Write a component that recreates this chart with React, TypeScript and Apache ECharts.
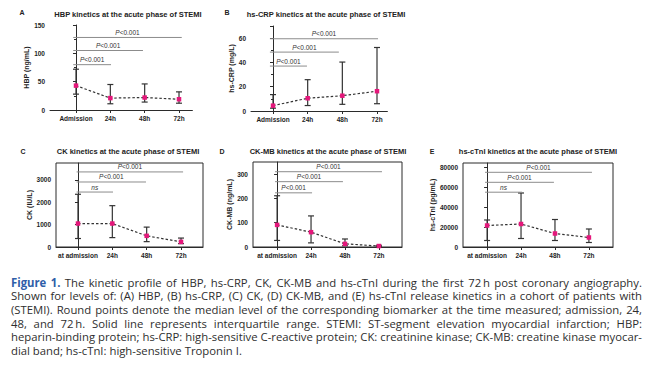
import React, { useEffect, useRef } from 'react';
import * as echarts from 'echarts';

// ---------- data ----------
const catsAB = ['Admission', '24h', '48h', '72h'];
const catsCDE = ['at admission', '24h', '48h', '72h'];

const hbpMedian = [43, 21, 22, 19];
const hbpQ1 = [28, 11, 14, 12];
const hbpQ3 = [72, 45, 46, 32];

const crpMedian = [4.4, 10.5, 12.6, 16.3];
const crpQ1 = [2.3, 4.5, 5.5, 6];
const crpQ3 = [13.5, 25.8, 40.3, 52.3];

const ckMedian = [1050, 1050, 500, 230];
const ckQ1 = [380, 420, 240, 150];
const ckQ3 = [2360, 1850, 890, 400];

const ckmbMedian = [91, 61, 13, 4];
const ckmbQ1 = [27, 17, 5, 2];
const ckmbQ3 = [211, 128, 33, 7];

const tniMedian = [21500, 23000, 13500, 9500];
const tniQ1 = [6500, 8500, 6500, 4500];
const tniQ3 = [27000, 54000, 27500, 18000];

// brackets: [from category, to category, height (data units)], labels separately
const bracketsA = [[-0.08, 1.02, 80], [-0.08, 1.95, 105], [-0.08, 3.08, 128]];
const bracketLabelsA = ['P<0.001', 'P<0.001', 'P<0.001'];
const bracketsB = [[-0.09, 0.98, 37], [-0.09, 1.9, 48.5], [-0.09, 3.03, 59.5]];
const bracketLabelsB = ['P<0.001', 'P<0.001', 'P<0.001'];
const bracketsC = [[-0.04, 1.02, 2460], [-0.04, 1.98, 2910], [-0.04, 3.06, 3360]];
const bracketLabelsC = ['ns', 'P<0.001', 'P<0.001'];
const bracketsD = [[-0.06, 1.03, 223], [-0.06, 1.94, 269], [-0.06, 3.09, 310]];
const bracketLabelsD = ['P<0.001', 'P<0.001', 'P<0.001'];
const bracketsE = [[-0.06, 1.03, 54800], [-0.06, 1.97, 64700], [-0.06, 3.09, 74700]];
const bracketLabelsE = ['ns', 'P<0.001', 'P<0.001'];

const ticksA = [0, 50, 100, 150];
const ticksB = [0, 20, 40, 60];
const ticksC = [0, 1000, 2000, 3000];
const ticksD = [0, 100, 200, 300];
const ticksE = [0, 20000, 40000, 60000, 80000];

const captionLines = [
  'Figure 1. The kinetic profile of HBP, hs-CRP, CK, CK-MB and hs-cTnI during the first 72\u2009h post coronary angiography.',
  'Shown for levels of: (A) HBP, (B) hs-CRP, (C) CK, (D) CK-MB, and (E) hs-cTnI release kinetics in a cohort of patients with',
  '(STEMI). Round points denote the median level of the corresponding biomarker at the time measured; admission, 24,',
  '48, and 72\u2009h. Solid line represents interquartile range. STEMI: ST-segment elevation myocardial infarction; HBP:',
  'heparin-binding protein; hs-CRP: high-sensitive C-reactive protein; CK: creatinine kinase; CK-MB: creatine kinase myocar-',
  'dial band; hs-cTnI: high-sensitive Troponin I.',
];

// ---------- styling / layout ----------
const FONT = '"Liberation Sans", Arial, Helvetica, sans-serif';
const CAP_FAMILY = '"Open Sans", "Noto Sans", sans-serif';
const PINK = '#e5177b';
const DARK = '#2b2b2b';

const panels = [
  {
    letter: 'A', letterAt: [22, 12], title: 'HBP kinetics at the acute phase of STEMI', titleAt: [128, 14],
    yName: 'HBP (ng/mL)', cats: catsAB, median: hbpMedian, q1: hbpQ1, q3: hbpQ3,
    br: bracketsA, brLabels: bracketLabelsA, ticks: ticksA,
    grid: { left: 50, top: 25, width: 142.4, height: 85 }, xMin: -0.757, xMax: 3.39, yMax: 150,
    interval: 50, minor: true, box: false, nameGap: 14,
  },
  {
    letter: 'B', letterAt: [227, 12], title: 'hs-CRP kinetics at the acute phase of STEMI', titleAt: [326, 14],
    yName: 'hs-CRP (mg/L)', cats: catsAB, median: crpMedian, q1: crpQ1, q3: crpQ3,
    br: bracketsB, brLabels: bracketLabelsB, ticks: ticksB,
    grid: { left: 251, top: 26, width: 136.4, height: 85 }, xMin: -0.635, xMax: 3.3, yMax: 70,
    interval: 20, minor: true, box: false, nameGap: 11,
  },
  {
    letter: 'C', letterAt: [23, 151], title: 'CK kinetics at the acute phase of STEMI', titleAt: [128, 151],
    yName: 'CK (IU/L)', cats: catsCDE, median: ckMedian, q1: ckQ1, q3: ckQ3,
    br: bracketsC, brLabels: bracketLabelsC, ticks: ticksC,
    grid: { left: 56, top: 163, width: 147, height: 84 }, xMin: -0.64, xMax: 3.64, yMax: 3760,
    interval: 0, minor: false, box: true, nameGap: 20,
  },
  {
    letter: 'D', letterAt: [222, 151], title: 'CK-MB kinetics at the acute phase of STEMI', titleAt: [328, 151],
    yName: 'CK-MB (ng/mL)', cats: catsCDE, median: ckmbMedian, q1: ckmbQ1, q3: ckmbQ3,
    br: bracketsD, brLabels: bracketLabelsD, ticks: ticksD,
    grid: { left: 253, top: 162, width: 149, height: 85 }, xMin: -0.71, xMax: 3.68, yMax: 350,
    interval: 0, minor: false, box: true, nameGap: 16,
  },
  {
    letter: 'E', letterAt: [432, 151], title: 'hs-cTnI kinetics at the acute phase of STEMI', titleAt: [538, 151],
    yName: 'hs-cTnI (pg/mL)', cats: catsCDE, median: tniMedian, q1: tniQ1, q3: tniQ3,
    br: bracketsE, brLabels: bracketLabelsE, ticks: ticksE,
    grid: { left: 463, top: 163, width: 150, height: 84 }, xMin: -0.71, xMax: 3.71, yMax: 84000,
    interval: 0, minor: false, box: true, nameGap: 24,
  },
];

function buildCaption(): any[] {
  const size = 11.5;
  const left = 11;
  const right = 642;
  const target = right - left;
  const canvas = document.createElement('canvas');
  const ctx = canvas.getContext('2d') as CanvasRenderingContext2D;
  const fontOf = (bold: boolean) => `${bold ? 'bold' : 'normal'} ${size}px ${CAP_FAMILY}`;
  const measure = (t: string, bold: boolean) => {
    ctx.font = fontOf(bold);
    return ctx.measureText(t).width;
  };
  ctx.font = fontOf(false);
  const spaceW = ctx.measureText(' ').width;
  const lines = captionLines.map((line, li) =>
    line.split(' ').map((w, wi) => {
      const bold = li === 0 && wi < 2;
      return { t: w, bold, w: measure(w, bold) };
    })
  );
  let maxNat = 0;
  lines.slice(0, lines.length - 1).forEach((ws) => {
    const nat = ws.reduce((s, w) => s + w.w, 0) + (ws.length - 1) * spaceW;
    maxNat = Math.max(maxNat, nat);
  });
  const sx = Math.min(1, target / maxNat);
  const els: any[] = [];
  lines.forEach((ws, li) => {
    const y = 282 + li * 13.7;
    const sum = ws.reduce((s, w) => s + w.w * sx, 0);
    const last = li === lines.length - 1;
    const gap = last ? spaceW * sx : (target - sum) / (ws.length - 1);
    let x = left;
    ws.forEach((w) => {
      els.push({
        type: 'text',
        x,
        y,
        scaleX: sx,
        silent: true,
        style: {
          text: w.t,
          font: fontOf(w.bold),
          fill: w.bold ? '#2f5ea8' : '#2e2e2e',
          verticalAlign: 'middle',
          align: 'left',
        },
      });
      x += w.w * sx + gap;
    });
  });
  return els;
}

function buildOption(): any {
  const grids: any[] = [];
  const xAxes: any[] = [];
  const yAxes: any[] = [];
  const series: any[] = [];
  const graphics: any[] = [];

  panels.forEach((p, i) => {
    grids.push({
      ...p.grid,
      containLabel: false,
      outerBoundsMode: 'none',
      show: p.box,
      borderColor: DARK,
      borderWidth: 1,
      backgroundColor: 'transparent',
    });
    const cats = p.cats;
    xAxes.push({
      type: 'value',
      gridIndex: i,
      min: p.xMin,
      max: p.xMax,
      splitLine: { show: false },
      axisLine: { show: true, onZero: false, lineStyle: { color: DARK, width: 1 } },
      axisTick: { show: true, customValues: [0, 1, 2, 3], length: 3, lineStyle: { color: DARK } },
      axisLabel: {
        customValues: [0, 1, 2, 3],
        formatter: (v: number) => cats[Math.round(v)] ?? '',
        fontSize: 6.5,
        fontWeight: 'bold',
        fontFamily: FONT,
        color: '#1e1e1e',
        margin: 5,
      },
    });
    const yAxis: any = {
      type: 'value',
      gridIndex: i,
      min: 0,
      max: p.yMax,
      splitLine: { show: false },
      name: p.yName,
      nameLocation: 'middle',
      nameRotate: 90,
      nameGap: p.nameGap,
      nameTextStyle: { fontSize: 7, fontWeight: 'bold', fontFamily: FONT, color: '#1e1e1e' },
      axisLine: { show: true, lineStyle: { color: DARK, width: 1 } },
      axisTick: { show: true, length: 3, lineStyle: { color: DARK } },
      axisLabel: {
        fontSize: 6.5,
        fontWeight: 'bold',
        fontFamily: FONT,
        color: '#1e1e1e',
        margin: 5,
        formatter: (v: number) => String(v),
      },
    };
    if (p.interval) {
      yAxis.interval = p.interval;
      yAxis.axisLabel.showMaxLabel = p.yMax % p.interval === 0;
      yAxis.minorTick = { show: p.minor, splitNumber: 2, length: 2, lineStyle: { color: DARK } };
    } else {
      yAxis.axisTick.customValues = p.ticks;
      yAxis.axisLabel.customValues = p.ticks;
    }
    yAxes.push(yAxis);

    const q1 = p.q1;
    const q3 = p.q3;
    // error bars (interquartile range)
    series.push({
      type: 'custom',
      xAxisIndex: i,
      yAxisIndex: i,
      z: 2,
      encode: { x: 0, y: [1, 2] },
      data: q1.map((v, k) => [k, v, q3[k]]),
      renderItem: (params: any, api: any) => {
        const x = api.value(0);
        const lo = api.coord([x, api.value(1)]);
        const hi = api.coord([x, api.value(2)]);
        const w = 3;
        const st = { stroke: '#333333', lineWidth: 1.2 };
        return {
          type: 'group',
          children: [
            { type: 'line', shape: { x1: lo[0], y1: lo[1], x2: hi[0], y2: hi[1] }, style: st },
            { type: 'line', shape: { x1: hi[0] - w, y1: hi[1], x2: hi[0] + w, y2: hi[1] }, style: st },
            { type: 'line', shape: { x1: lo[0] - w, y1: lo[1], x2: lo[0] + w, y2: lo[1] }, style: st },
          ],
        };
      },
    });
    // medians
    series.push({
      type: 'line',
      xAxisIndex: i,
      yAxisIndex: i,
      z: 3,
      data: p.median.map((v, k) => [k, v]),
      symbol: 'rect',
      symbolSize: 4.5,
      itemStyle: { color: PINK },
      lineStyle: { color: '#333', width: 1.2, type: [2.5, 2] },
    });
    // significance brackets
    const labels = p.brLabels;
    series.push({
      type: 'custom',
      xAxisIndex: i,
      yAxisIndex: i,
      z: 2,
      encode: { x: [0, 1], y: 2 },
      data: p.br,
      renderItem: (params: any, api: any) => {
        const a = api.coord([api.value(0), api.value(2)]);
        const b = api.coord([api.value(1), api.value(2)]);
        const lab = labels[params.dataIndex];
        const txt = lab === 'ns' ? '{i|ns}' : '{i|P}' + lab.slice(1);
        return {
          type: 'group',
          children: [
            { type: 'line', shape: { x1: a[0], y1: a[1], x2: b[0], y2: b[1] }, style: { stroke: '#8c8c8c', lineWidth: 1 } },
            {
              type: 'text',
              x: (a[0] + b[0]) / 2,
              y: a[1] - 1.5,
              style: {
                text: txt,
                rich: { i: { fontStyle: 'italic', fontSize: 6.5, fontFamily: FONT, fill: '#333' } },
                fontSize: 6.5,
                fontFamily: FONT,
                fill: '#333',
                align: 'center',
                verticalAlign: 'bottom',
              },
            },
          ],
        };
      },
    });

    graphics.push({
      type: 'text',
      x: p.letterAt[0],
      y: p.letterAt[1],
      style: { text: p.letter, font: `bold 7px ${FONT}`, fill: '#222', align: 'center', verticalAlign: 'middle' },
    });
    graphics.push({
      type: 'text',
      x: p.titleAt[0],
      y: p.titleAt[1],
      style: { text: p.title, font: `bold 7.5px ${FONT}`, fill: '#222', align: 'center', verticalAlign: 'middle' },
    });
  });

  return {
    animation: false,
    backgroundColor: '#ffffff',
    grid: grids,
    xAxis: xAxes,
    yAxis: yAxes,
    series,
    graphic: { elements: [...graphics, ...buildCaption()] },
  };
}

export default function App() {
  const ref = useRef<HTMLDivElement>(null);
  useEffect(() => {
    if (!ref.current) return;
    const chart = echarts.init(ref.current, undefined, { renderer: 'svg' });
    chart.setOption(buildOption());
    return () => chart.dispose();
  }, []);
  return (
    <div
      ref={ref}
      style={{ position: 'absolute', left: 0, top: 0, width: 650, height: 375, background: '#fff' }}
    />
  );
}
